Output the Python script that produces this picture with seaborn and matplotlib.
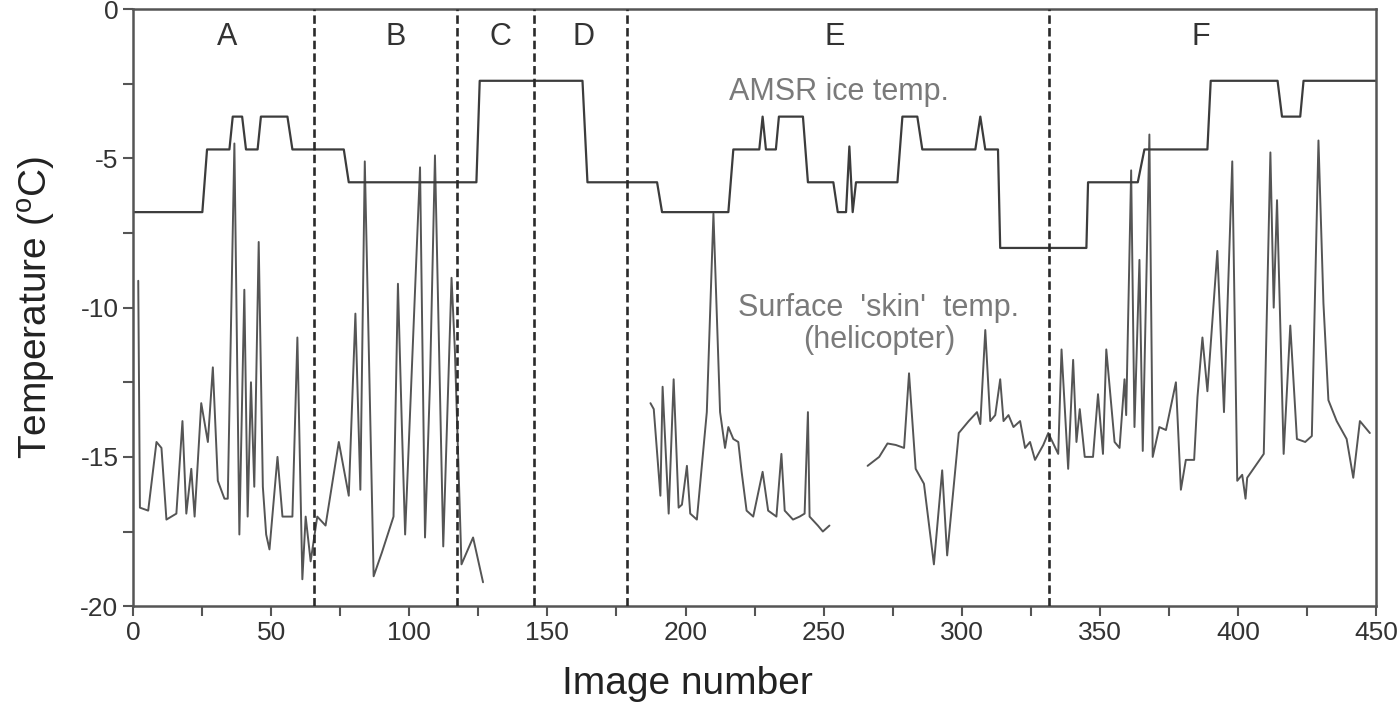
import numpy as np
import pandas as pd
import matplotlib
matplotlib.use("Agg")
import matplotlib.pyplot as plt
from matplotlib.ticker import MultipleLocator
import seaborn as sns

sns.set_style("ticks")
plt.rcParams["font.family"] = ["Liberation Sans", "DejaVu Sans"]
plt.rcParams["mathtext.fontset"] = "custom"
plt.rcParams["mathtext.rm"] = "Liberation Sans"
plt.rcParams["axes.unicode_minus"] = False

# ---------- DATA ----------
# AMSR ice temperature (step-like series)
amsr_x = [0, 25.1, 26.8, 34.9, 36.1, 39.5, 40.9, 45.1, 46.3, 55.9, 57.7, 76.3, 78.1,
          124.3, 125.5, 162.7, 164.5, 189.7, 191.5, 215.5, 217.3, 226.7, 227.9, 229.1,
          232.7, 233.8, 242.5, 244.3, 253.5, 255.1, 258.1, 259.3, 260.5, 261.7, 276.7,
          278.5, 283.9, 285.7, 304.9, 306.7, 308.5, 313.1, 313.9, 345.1, 345.7, 363.7,
          366.1, 388.9, 390.1, 414.3, 415.9, 422.5, 423.7, 450]
amsr_y = [-6.8, -6.8, -4.7, -4.7, -3.6, -3.6, -4.7, -4.7, -3.6, -3.6, -4.7, -4.7, -5.8,
          -5.8, -2.4, -2.4, -5.8, -5.8, -6.8, -6.8, -4.7, -4.7, -3.6, -4.7,
          -4.7, -3.6, -3.6, -5.8, -5.8, -6.8, -6.8, -4.6, -6.8, -5.8, -5.8,
          -3.6, -3.6, -4.7, -4.7, -3.6, -4.7, -4.7, -8.0, -8.0, -5.8, -5.8,
          -4.7, -4.7, -2.4, -2.4, -3.6, -3.6, -2.4, -2.4]

# Surface 'skin' temperature (helicopter), three separate runs
skin1_x = [1.9, 2.5, 5.5, 8.5, 10.3, 12.1, 15.7, 17.9, 19.3, 21.1, 22.3, 24.7, 27.1, 28.9,
           30.7, 33.1, 34.3, 36.7, 38.5, 40.3, 41.5, 42.7, 43.9, 45.5, 47.0, 48.2, 49.4,
           52.3, 54.1, 57.7, 59.5, 61.3, 62.5, 64.3, 66.7, 69.7, 74.5, 78.1, 80.5, 82.3,
           83.9, 87.1, 90.1, 94.3, 95.9, 97.3, 98.5, 103.9, 105.7, 107.5, 109.3, 112.3,
           115.3, 116.5, 118.9, 123.1, 126.7]
skin1_y = [-9.1, -16.7, -16.8, -14.5, -14.7, -17.1, -16.9, -13.8, -16.9, -15.4, -17.0, -13.2,
           -14.5, -12.0, -15.8, -16.4, -16.4, -4.5, -17.6, -9.4, -17.0, -12.5, -16.0, -7.8,
           -16.0, -17.6, -18.1, -15.0, -17.0, -17.0, -11.0, -19.1, -17.0, -18.5, -17.0,
           -17.3, -14.5, -16.3, -10.2, -16.1, -5.1, -19.0, -18.2, -17.0, -9.2, -13.9, -17.6,
           -5.3, -17.7, -12.5, -4.9, -18.0, -9.0, -11.4, -18.6, -17.7, -19.2]

skin2_x = [187.3, 188.5, 190.9, 191.7, 193.9, 195.7, 197.5, 198.7, 200.5, 201.7, 204.1,
           207.7, 210.1, 212.5, 214.3, 215.5, 217.3, 219.1, 220.3, 222.1, 224.5, 227.9,
           229.9, 232.9, 234.7, 235.9, 238.9, 241.3, 243.1, 244.3, 244.9, 247.9, 249.7, 252.1]
skin2_y = [-13.2, -13.4, -16.3, -12.65, -16.9, -12.4, -16.7, -16.6, -15.3, -16.9, -17.1,
           -13.5, -6.85, -13.5, -14.7, -14.0, -14.4, -14.5, -15.5, -16.8, -17.0, -15.5,
           -16.8, -17.0, -14.9, -16.8, -17.1, -17.0, -16.9, -13.5, -17.0, -17.3, -17.5, -17.3]

skin3_x = [265.9, 270.1, 273.1, 276.1, 279.1, 280.9, 283.3, 286.3, 289.9, 292.9,
           294.7, 298.9, 302.5, 305.5, 306.7, 308.5, 310.3, 312.1, 313.9, 315.1,
           316.9, 318.7, 321.1, 322.9, 324.7, 326.5, 329.5, 331.3, 334.9, 336.1,
           338.5, 340.3, 341.5, 342.7, 344.5, 347.5, 349.3, 351.1, 352.3, 355.3,
           357.1, 358.9, 359.5, 361.3, 362.5, 364.3, 365.5, 367.9, 369.1, 371.5,
           373.9, 377.5, 379.3, 381.1, 384.1, 385.3, 387.1, 388.9, 392.5, 394.9,
           397.9, 399.7, 401.5, 402.7, 403.3, 409.3, 411.7, 412.9, 414.1, 416.5,
           418.9, 421.3, 424.3, 426.7, 429.1, 430.9, 432.7, 435.7, 439.3, 441.7,
           444.1, 447.7]
skin3_y = [-15.3, -15.0, -14.55, -14.6, -14.7, -12.2, -15.4, -15.9, -18.6, -15.45,
           -18.3, -14.2, -13.8, -13.5, -13.9, -10.75, -13.8, -13.6, -12.4, -13.8,
           -13.6, -14.0, -13.8, -14.7, -14.5, -15.1, -14.6, -14.2, -14.9, -11.4,
           -15.4, -11.75, -14.5, -13.4, -15.0, -15.0, -12.9, -14.9, -11.4, -14.5,
           -14.7, -12.4, -13.6, -5.4, -14.0, -8.4, -14.8, -4.2, -15.0, -14.0,
           -14.1, -12.5, -16.1, -15.1, -15.1, -13.0, -11.0, -12.8, -8.1, -13.5,
           -5.1, -15.8, -15.6, -16.4, -15.7, -14.9, -4.8, -10.0, -6.4, -14.9,
           -10.6, -14.4, -14.5, -14.3, -4.4, -9.85, -13.1, -13.8, -14.4, -15.7,
           -13.8, -14.2]

# Section boundaries and labels
boundary_x = [65.5, 117.1, 145.3, 178.9, 331.5]
section_labels = ["A", "B", "C", "D", "E", "F"]
section_label_x = [34, 95, 133, 163, 254, 386.6]

# ---------- FRAMES ----------
amsr = pd.DataFrame({"image": amsr_x, "temp": amsr_y})
skin = pd.concat([
    pd.DataFrame({"image": skin1_x, "temp": skin1_y, "run": 1}),
    pd.DataFrame({"image": skin2_x, "temp": skin2_y, "run": 2}),
    pd.DataFrame({"image": skin3_x, "temp": skin3_y, "run": 3}),
], ignore_index=True)

# ---------- PLOT ----------
fig = plt.figure(figsize=(14, 7.04), dpi=100)
ax = fig.add_axes([0.095, 0.139, 0.888, 0.848])

sns.lineplot(data=skin, x="image", y="temp", units="run", estimator=None,
             sort=False, color="#555555", lw=1.4, ax=ax)
sns.lineplot(data=amsr, x="image", y="temp", sort=False,
             color="#3c3c3c", lw=1.6, ax=ax)

for bx in boundary_x:
    ax.axvline(bx, color="#2a2a2a", lw=1.9, dashes=(3.2, 1.6), zorder=3)

for lab, lx in zip(section_labels, section_label_x):
    ax.text(lx, -0.94, lab, ha="center", va="center", fontsize=22, color="#333333")

ax.text(255.6, -2.77, "AMSR ice temp.", ha="center", va="center",
        fontsize=22, color="#7a7a7a")
ax.text(270, -10.55, "Surface  'skin'  temp.\n(helicopter)", ha="center", va="center",
        fontsize=22, color="#7a7a7a", linespacing=1.1)

ax.set_xlim(0, 450)
ax.set_ylim(-20, 0)
ax.xaxis.set_major_locator(MultipleLocator(50))
ax.xaxis.set_minor_locator(MultipleLocator(25))
ax.yaxis.set_major_locator(MultipleLocator(5))
ax.yaxis.set_minor_locator(MultipleLocator(2.5))
ax.tick_params(which="both", direction="out", length=7, width=1.5,
               color="#555555", labelsize=19, labelcolor="#333333")
for sp in ax.spines.values():
    sp.set_color("#555555")
    sp.set_linewidth(1.8)

ax.set_xlabel("Image number", fontsize=28, color="#222222")
ax.xaxis.set_label_coords(0.446, -0.1)
ax.set_ylabel("Temperature ($^\\mathregular{o}$C)", fontsize=28, color="#222222", labelpad=16)

fig.savefig("out.png", dpi=100)
